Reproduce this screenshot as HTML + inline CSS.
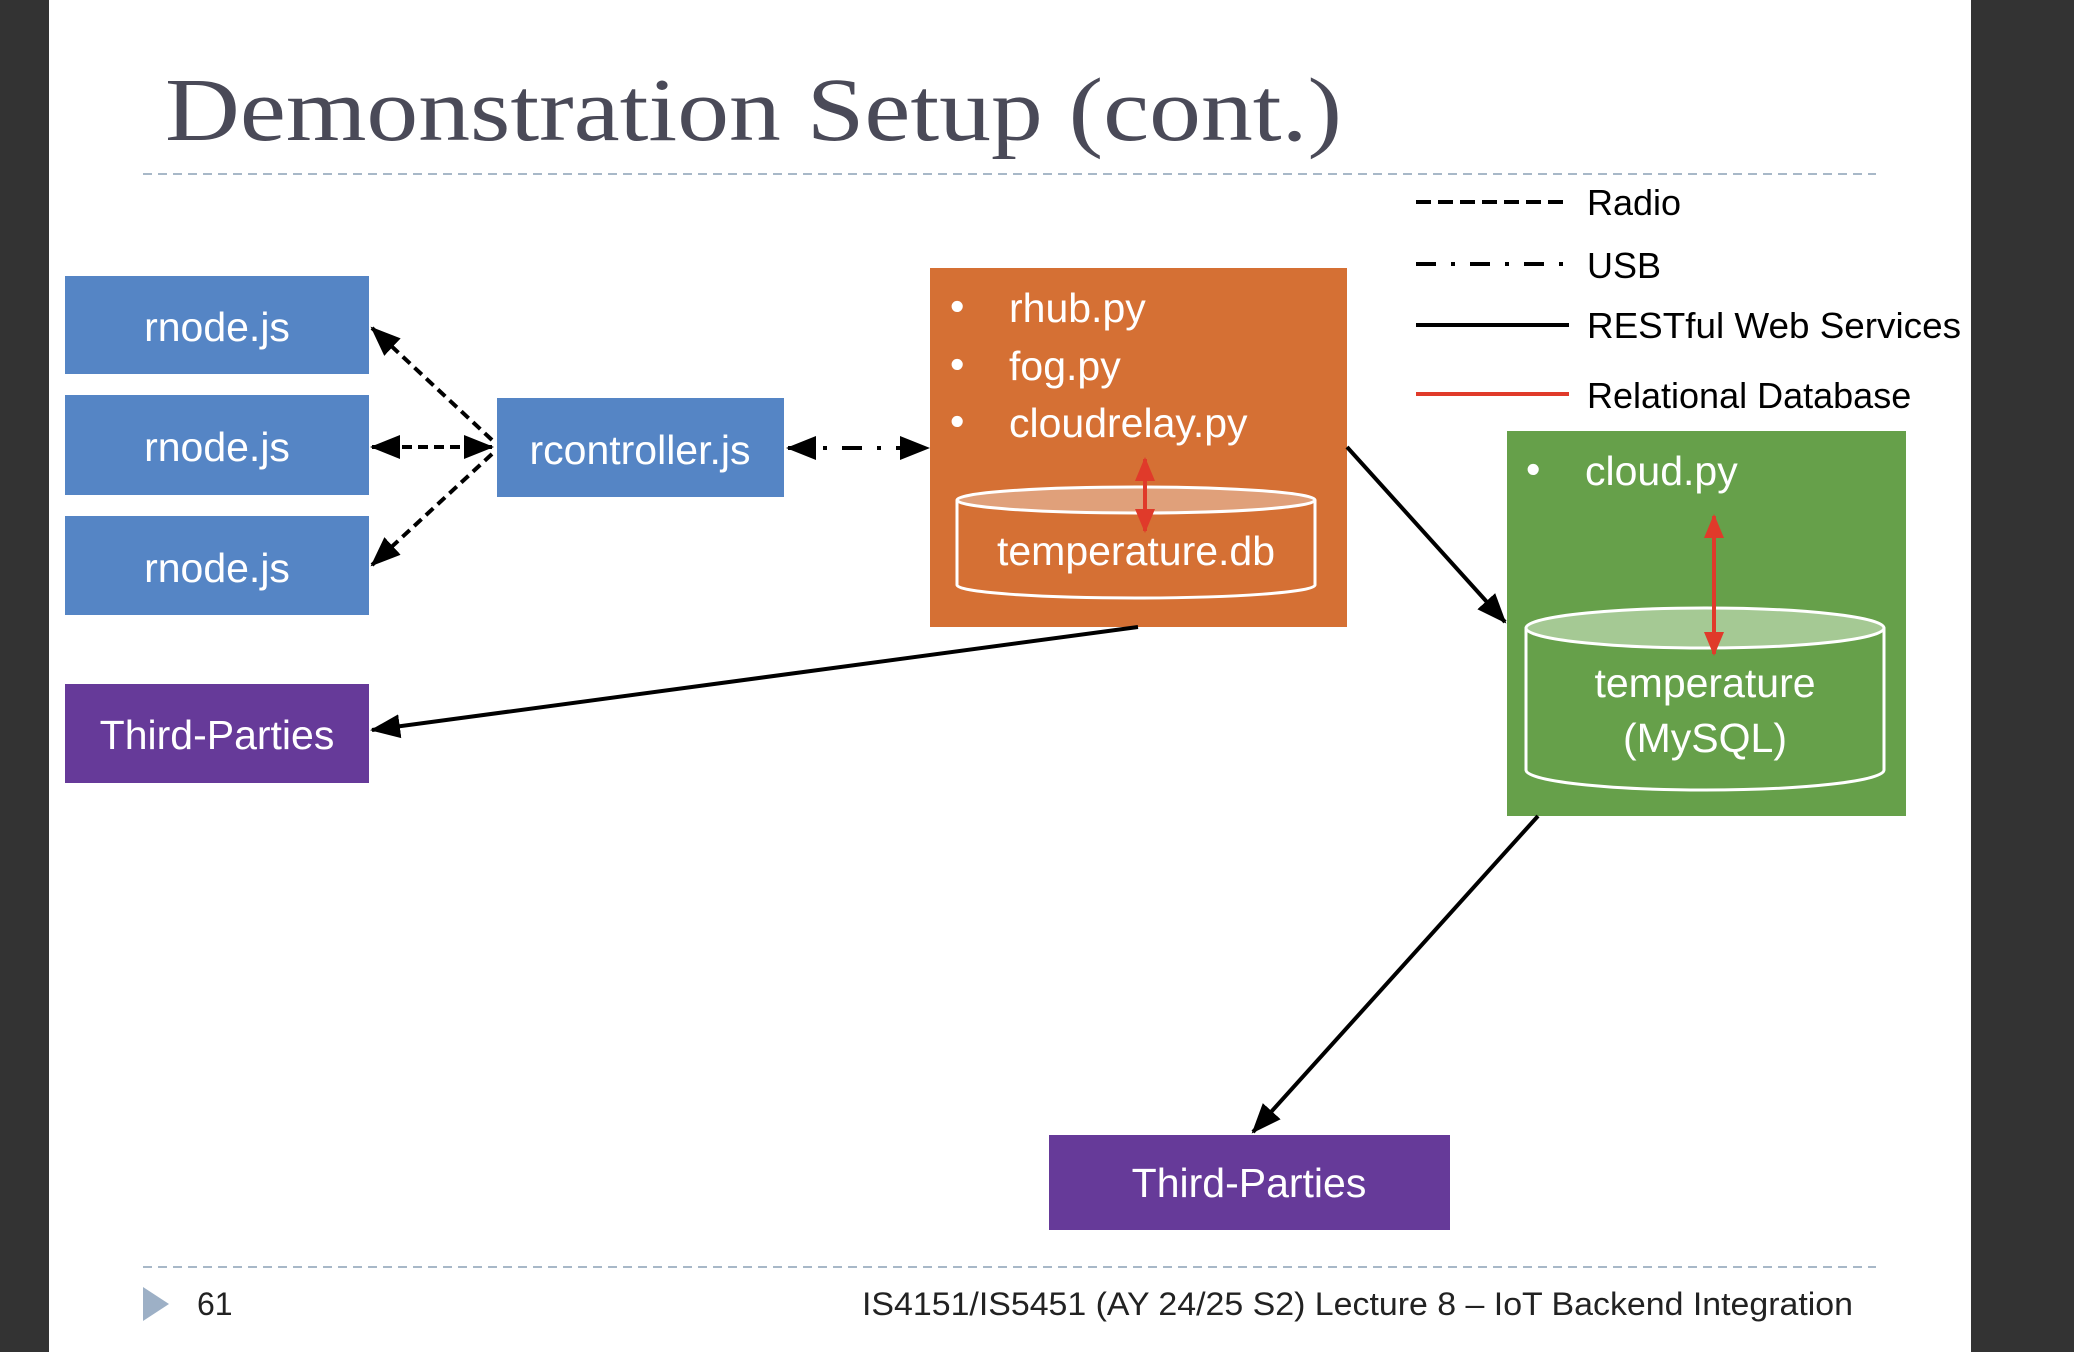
<!DOCTYPE html>
<html><head><meta charset="utf-8"><style>
html,body{margin:0;padding:0;background:#fff;}
body{width:2074px;height:1352px;overflow:hidden;position:relative;}
svg{position:absolute;left:0;top:0;}
text{font-family:"Liberation Sans",sans-serif;}
</style></head><body>
<svg width="2074" height="1352" viewBox="0 0 2074 1352">
<defs>
<marker id="ahb" markerWidth="30" markerHeight="30" refX="28" refY="15" orient="auto" markerUnits="userSpaceOnUse" viewBox="0 0 30 30">
<path d="M0,3 L30,15 L0,27 z" fill="#000"/></marker>
<marker id="ahs" markerWidth="30" markerHeight="30" refX="2" refY="15" orient="auto" markerUnits="userSpaceOnUse" viewBox="0 0 30 30">
<path d="M30,3 L0,15 L30,27 z" fill="#000"/></marker>
<marker id="rh" markerWidth="24" markerHeight="24" refX="22" refY="12" orient="auto" markerUnits="userSpaceOnUse" viewBox="0 0 24 24">
<path d="M0,2 L24,12 L0,22 z" fill="#E03A2A"/></marker>
<marker id="rhs" markerWidth="24" markerHeight="24" refX="2" refY="12" orient="auto" markerUnits="userSpaceOnUse" viewBox="0 0 24 24">
<path d="M24,2 L0,12 L24,22 z" fill="#E03A2A"/></marker>
</defs>
<rect x="0" y="0" width="49" height="1352" fill="#333"/>
<rect x="1971" y="0" width="103" height="1352" fill="#333"/>
<text x="165" y="140" font-size="90" fill="#4a4a58" textLength="1177" lengthAdjust="spacingAndGlyphs" style="font-family:'Liberation Serif',serif">Demonstration Setup (cont.)</text>
<line x1="143" y1="174" x2="1876" y2="174" stroke="#a8b8c8" stroke-width="2" stroke-dasharray="9,6"/>
<line x1="1416" y1="202" x2="1569" y2="202" stroke="#000" stroke-width="4" stroke-dasharray="15,7"/>
<line x1="1416" y1="264" x2="1569" y2="264" stroke="#000" stroke-width="4" stroke-dasharray="20,15,4,15"/>
<line x1="1416" y1="325" x2="1569" y2="325" stroke="#000" stroke-width="4"/>
<line x1="1416" y1="394" x2="1569" y2="394" stroke="#E03A2A" stroke-width="4"/>
<g font-size="36" fill="#000">
<text x="1587" y="215">Radio</text>
<text x="1587" y="278">USB</text>
<text x="1587" y="338" textLength="374" lengthAdjust="spacingAndGlyphs">RESTful Web Services</text>
<text x="1587" y="408">Relational Database</text>
</g>
<rect x="65" y="276" width="304" height="98" fill="#5585C5"/>
<rect x="65" y="395" width="304" height="100" fill="#5585C5"/>
<rect x="65" y="516" width="304" height="99" fill="#5585C5"/>
<rect x="497" y="398" width="287" height="99" fill="#5585C5"/>
<rect x="65" y="684" width="304" height="99" fill="#663A99"/>
<rect x="1049" y="1135" width="401" height="95" fill="#663A99"/>
<rect x="930" y="268" width="417" height="359" fill="#D57034"/>
<rect x="1507" y="431" width="399" height="385" fill="#66A04A"/>
<g font-size="41" fill="#fff" text-anchor="middle">
<text x="217" y="341">rnode.js</text>
<text x="217" y="461">rnode.js</text>
<text x="217" y="582">rnode.js</text>
<text x="640" y="464">rcontroller.js</text>
<text x="217" y="749">Third-Parties</text>
<text x="1249" y="1197">Third-Parties</text>
</g>
<g font-size="41" fill="#fff">
<text x="950" y="320">•</text><text x="1009" y="322">rhub.py</text>
<text x="950" y="378">•</text><text x="1009" y="380">fog.py</text>
<text x="950" y="435">•</text><text x="1009" y="437">cloudrelay.py</text>
<text x="1526" y="483">•</text><text x="1585" y="485">cloud.py</text>
</g>
<path d="M957,500 L957,585 A179,13 0 0 0 1315,585 L1315,500" fill="none" stroke="#fff" stroke-width="3"/>
<ellipse cx="1136" cy="500" rx="179" ry="13" fill="#E0A07A" stroke="#fff" stroke-width="3"/>
<text x="1136" y="565" font-size="41" fill="#fff" text-anchor="middle">temperature.db</text>
<path d="M1526,628 L1526,770 A179,20 0 0 0 1884,770 L1884,628" fill="none" stroke="#fff" stroke-width="3"/>
<ellipse cx="1705" cy="628" rx="179" ry="20" fill="#A5C994" stroke="#fff" stroke-width="3"/>
<text x="1705" y="697" font-size="41" fill="#fff" text-anchor="middle">temperature</text>
<text x="1705" y="752" font-size="41" fill="#fff" text-anchor="middle">(MySQL)</text>
<line x1="1145" y1="459" x2="1145" y2="531" stroke="#E03A2A" stroke-width="4" marker-end="url(#rh)" marker-start="url(#rhs)"/>
<line x1="1714" y1="516" x2="1714" y2="654" stroke="#E03A2A" stroke-width="4" marker-end="url(#rh)" marker-start="url(#rhs)"/>
<g stroke="#000" stroke-width="4" fill="none">
<line x1="492" y1="440" x2="372" y2="328" stroke-dasharray="10,6" marker-end="url(#ahb)"/>
<line x1="492" y1="447" x2="372" y2="447" stroke-dasharray="10,6" marker-end="url(#ahb)" marker-start="url(#ahs)"/>
<line x1="492" y1="454" x2="372" y2="565" stroke-dasharray="10,6" marker-end="url(#ahb)"/>
<line x1="788" y1="448" x2="928" y2="448" stroke-dasharray="20,15,4,15" marker-end="url(#ahb)" marker-start="url(#ahs)"/>
<line x1="1347" y1="447" x2="1505" y2="622" marker-end="url(#ahb)"/>
<line x1="1138" y1="627" x2="372" y2="730" marker-end="url(#ahb)"/>
<line x1="1538" y1="816" x2="1253" y2="1132" marker-end="url(#ahb)"/>
</g>
<line x1="143" y1="1267" x2="1876" y2="1267" stroke="#a8b8c8" stroke-width="2" stroke-dasharray="9,6"/>
<path d="M143,1287 L169,1304 L143,1321 z" fill="#9db0c6"/>
<text x="197" y="1315" font-size="32" fill="#222">61</text>
<text x="862" y="1315" font-size="32" fill="#222" textLength="991" lengthAdjust="spacingAndGlyphs">IS4151/IS5451 (AY 24/25 S2) Lecture 8 – IoT Backend Integration</text>
</svg>
</body></html>
